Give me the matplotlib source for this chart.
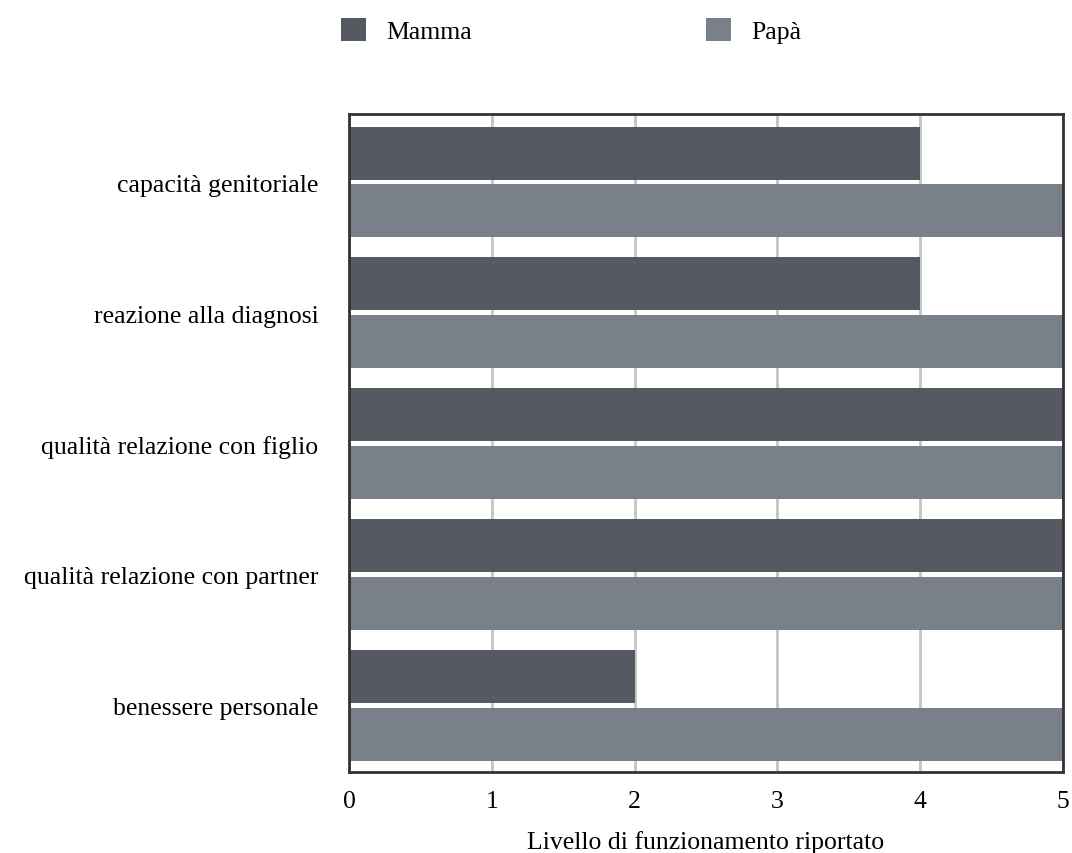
import numpy as np
import matplotlib.pyplot as plt

plt.rcParams['font.family'] = ['Liberation Serif', 'DejaVu Serif']

categories = ["capacità genitoriale", "reazione alla diagnosi", "qualità relazione con figlio",
              "qualità relazione con partner", "benessere personale"]
mamma = [4, 4, 5, 5, 2]
papa = [5, 5, 5, 5, 5]

col_mamma = "#555a62"
col_papa = "#7a8089"

fig = plt.figure(figsize=(10.72, 8.54), dpi=100)
ax = fig.add_axes([349 / 1072, 1 - 773 / 854, (1063 - 349) / 1072, (773 - 115) / 854])

y = np.arange(len(categories))[::-1]
h = 0.405
ax.barh(y + 0.222, mamma, height=h, color=col_mamma, label="Mamma", zorder=2)
ax.barh(y - 0.215, papa, height=h, color=col_papa, label="Papà", zorder=2)

ax.set_xlim(0, 5)
ax.set_ylim(-0.505, 4.52)
ax.set_yticks(y)
ax.set_yticklabels(categories, fontsize=18.5)
ax.set_xticks(range(6))
ax.tick_params(axis='x', labelsize=18.5, length=0, pad=13)
ax.tick_params(axis='y', length=0, pad=22)
ax.xaxis.grid(True, color="#c4c4c4", linewidth=2, zorder=0)
ax.set_axisbelow(True)
for s in ax.spines.values():
    s.set_color("#333333")
    s.set_linewidth(2)
ax.set_xlabel("Livello di funzionamento riportato", fontsize=18.5, labelpad=13)

fig.legend(loc="upper center", bbox_to_anchor=(571 / 1072, 1 + 4 / 854), ncol=2, frameon=False,
           fontsize=18.5, handlelength=0.97, handleheight=0.97, handletextpad=0.8,
           columnspacing=9.1)

fig.savefig("out.png", dpi=100)
